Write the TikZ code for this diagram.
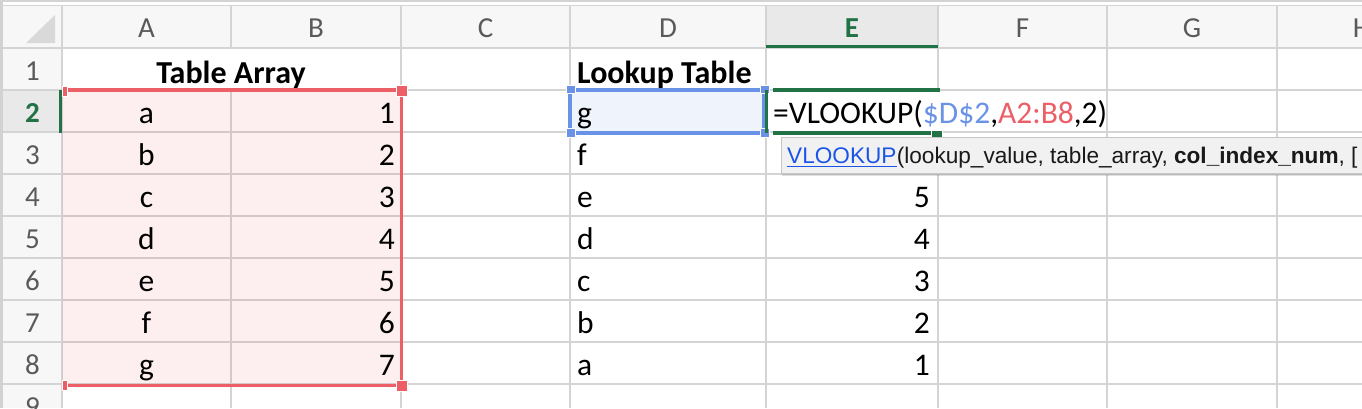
\documentclass[tikz,border=0pt]{standalone}
\usepackage{fontspec}
\setmainfont{Carlito}
\newfontfamily\tipfont{Liberation Sans}
\usepackage{tikz}
\usetikzlibrary{positioning}

\definecolor{gridgray}{HTML}{D4D4D4}
\definecolor{hdrfill}{HTML}{F7F7F7}
\definecolor{hdrsel}{HTML}{E9E9E9}
\definecolor{hdrtext}{HTML}{5A5A5A}
\definecolor{xlgreen}{HTML}{217346}
\definecolor{refred}{HTML}{EC5F67}
\definecolor{refblue}{HTML}{6A93E8}
\definecolor{tipfill}{HTML}{F1F1F1}
\definecolor{tipborder}{HTML}{C6C6C6}
\definecolor{tiplink}{HTML}{1A55E8}

\tikzset{
  gridline/.style={draw=gridgray, line width=1.5pt},
  hdr/.style={inner sep=0pt, anchor=base, text=hdrtext, font=\fontsize{29}{34}\selectfont},
  cell/.style={inner sep=0pt, font=\fontsize{31.5}{36}\selectfont},
  title/.style={inner sep=0pt, font=\bfseries\fontsize{32}{36}\selectfont},
  handle/.style={draw=white, line width=1pt},
  tiptext/.style={inner sep=0pt, anchor=base west, text=black!90, font=\tipfont\fontsize{22.6}{26}\selectfont}
}

\begin{document}
\begin{tikzpicture}[x=1pt, y=-1pt]
  \useasboundingbox (0,0) rectangle (1362,408);
  \clip (0,0) rectangle (1362,408);

  % sheet and headers
  \fill[white] (0,0) rectangle (1362,408);
  \fill[hdrfill] (0,6) rectangle (1362,48);
  \fill[hdrfill] (0,48) rectangle (62,408);
  \fill[hdrsel] (766,6) rectangle (938,48);
  \fill[hdrsel] (3,90) rectangle (62,132);
  \fill[gray!35] (0,0) rectangle (3,408);
  \fill[gray!30] (26,43) -- (55,43) -- (55,15) -- cycle;
  \draw[gridline] (0,1) -- (1362,1);
  \draw[gridline] (0,5.5) -- (1362,5.5);

  % grid
  \foreach \y in {48,90,132,174,216,258,300,342,384}
    \draw[gridline] (3,\y) -- (1362,\y);
  \foreach \x in {62,401,570,766,1107,1277}
    \draw[gridline] (\x,6) -- (\x,408);
  \draw[gridline] (231,6) -- (231,48);
  \draw[gridline] (231,90) -- (231,408);
  \draw[gridline] (938,6) -- (938,90);
  \draw[gridline] (938,132) -- (938,408);

  % column and row headers
  \node[hdr] (hA) at (146.5,37.5) {A};
  \node[hdr] (hB) at (316,37.5) {B};
  \node[hdr] (hC) at (485.5,37.5) {C};
  \node[hdr] (hD) at (668,37.5) {D};
  \node[hdr, text=xlgreen, font=\bfseries\fontsize{29}{34}\selectfont] (hE) at (852,37.5) {E};
  \node[hdr] (hF) at (1022.5,37.5) {F};
  \node[hdr] (hG) at (1192,37.5) {G};
  \node[hdr] (hH) at (1362,37.5) {H};
  \foreach \r [evaluate=\r as \yb using 48+42*\r-9.5] in {1,3,4,5,6,7,8,9}
    \node[hdr] (r\r) at (32.5,\yb) {\r};
  \node[hdr, text=xlgreen, font=\bfseries\fontsize{29}{34}\selectfont] (r2) at (32.5,122.5) {2};
  \draw[xlgreen, line width=3pt] (766,46.5) -- (938,46.5);

  % highlighted ranges
  \fill[refred, opacity=.1] (62,90) rectangle (401,384);
  \fill[refblue, opacity=.1] (570,90) rectangle (764,133);

  % table array
  \node[title, anchor=base] (A1) at (231,83) {Table Array};
  \node[cell, anchor=base] (A2) at (146.5,123.5) {a};
  \node[cell, anchor=base] (A3) at (146.5,165.5) {b};
  \node[cell, anchor=base] (A4) at (146.5,207.5) {c};
  \node[cell, anchor=base] (A5) at (146.5,249.5) {d};
  \node[cell, anchor=base] (A6) at (146.5,291.5) {e};
  \node[cell, anchor=base] (A7) at (146.5,333.5) {f};
  \node[cell, anchor=base] (A8) at (146.5,375.5) {g};
  \node[cell, anchor=base east] (B2) at (395,123.5) {1};
  \node[cell, anchor=base east] (B3) at (395,165.5) {2};
  \node[cell, anchor=base east] (B4) at (395,207.5) {3};
  \node[cell, anchor=base east] (B5) at (395,249.5) {4};
  \node[cell, anchor=base east] (B6) at (395,291.5) {5};
  \node[cell, anchor=base east] (B7) at (395,333.5) {6};
  \node[cell, anchor=base east] (B8) at (395,375.5) {7};

  % lookup table
  \node[title, anchor=base west] (D1) at (577,83) {Lookup Table};
  \node[cell, anchor=base west] (D2) at (577,123.5) {g};
  \node[cell, anchor=base west] (D3) at (577,165.5) {f};
  \node[cell, anchor=base west] (D4) at (577,207.5) {e};
  \node[cell, anchor=base west] (D5) at (577,249.5) {d};
  \node[cell, anchor=base west] (D6) at (577,291.5) {c};
  \node[cell, anchor=base west] (D7) at (577,333.5) {b};
  \node[cell, anchor=base west] (D8) at (577,375.5) {a};
  \node[cell, anchor=base east] (E4) at (930,207.5) {5};
  \node[cell, anchor=base east] (E5) at (930,249.5) {4};
  \node[cell, anchor=base east] (E6) at (930,291.5) {3};
  \node[cell, anchor=base east] (E7) at (930,333.5) {2};
  \node[cell, anchor=base east] (E8) at (930,375.5) {1};
  \node[cell, anchor=base west] (E2) at (773,123.5)
    {=VLOOKUP(\textcolor{refblue}{\$D\$2},\textcolor{refred}{A2:B8},2)};

  % range borders
  \draw[refred, line width=3.5pt] (62,90) -- (401.5,90) -- (401.5,385.5) -- (62,385.5);
  \fill[refred, handle] (396,85) rectangle (407,96);
  \fill[refred, handle] (396,380) rectangle (407,391);
  \fill[refred, handle] (62,86) rectangle (67,96);
  \fill[refred, handle] (62,380) rectangle (67,390);
  \draw[refblue, line width=3.5pt] (570,90) rectangle (763.5,133);
  \fill[refblue, handle] (566.5,85) rectangle (575,93.5);
  \fill[refblue, handle] (760,85) rectangle (769,93.5);
  \fill[refblue, handle] (566.5,128.5) rectangle (575,137);
  \fill[refblue, handle] (760,128.5) rectangle (769,137);
  \draw[xlgreen, line width=3.5pt] (766.5,90) -- (766.5,133);
  \draw[xlgreen, line width=3.5pt] (773,90) -- (940,90);
  \draw[xlgreen, line width=3.5pt] (773,133) -- (931,133);
  \fill[xlgreen, handle] (931,130) rectangle (942,137.5);
  \draw[xlgreen, line width=3.5pt] (60.3,90) -- (60.3,133);

  % tooltip
  \fill[black, opacity=.12] (782,139) rectangle (1366,175.5);
  \draw[fill=tipfill, draw=tipborder, line width=1pt] (781,137) rectangle (1366,173);
  \node[tiptext, text=tiplink] (tipfn) at (787,163) {VLOOKUP};
  \draw[tiplink, line width=1.3pt] ([yshift=-3.5pt]tipfn.base west) -- ([yshift=-3.5pt]tipfn.base east);
  \node[tiptext] (tipargs) at (tipfn.base east)
    {(lookup\_value, table\_array, \textbf{col\_index\_num}, [};
\end{tikzpicture}
\end{document}
